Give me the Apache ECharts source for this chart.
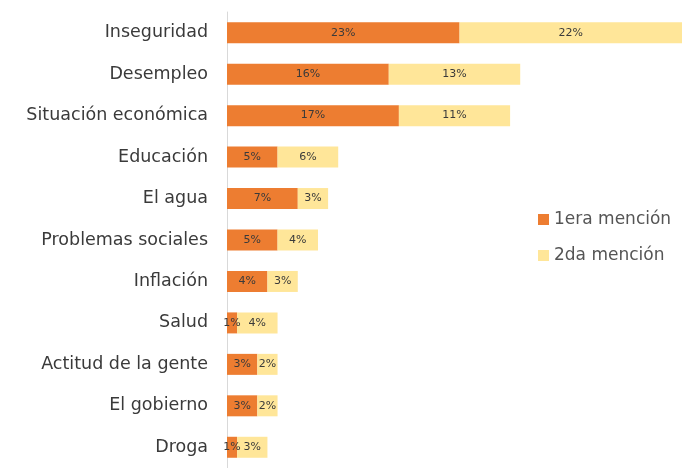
<!DOCTYPE html>
<html><head><meta charset="utf-8">
<script src="https://cdn.jsdelivr.net/npm/echarts@6/dist/echarts.min.js"></script>
<style>html,body{margin:0;padding:0;background:#fff}#c{width:682px;height:468px}</style>
</head><body><div id="c"></div>
<script>
const categories = ["Inseguridad","Desempleo","Situación económica","Educación","El agua","Problemas sociales","Inflación","Salud","Actitud de la gente","El gobierno","Droga"];
const primera = [23,16,17,5,7,5,4,1,3,3,1];
const segunda = [22,13,11,6,3,4,3,4,2,2,3];
const seriesNames = ["1era mención","2da mención"];
const chart = echarts.init(document.getElementById('c'));
const font = "'DejaVu Sans', sans-serif";
const lbl = {show:true, position:'inside', formatter:'{c}%', color:'#3a3a3a', fontSize:11, fontFamily:font, overflow:'none'};
chart.setOption({
  animation:false,
  grid:{left:227, top:12, width:455, height:460, containLabel:false},
  xAxis:{type:'value', min:0, max:45, show:false},
  yAxis:{type:'category', data:categories, inverse:true,
    axisLine:{show:true, lineStyle:{color:'#d9d9d9', width:1}},
    axisTick:{show:false},
    axisLabel:{color:'#3a3a3a', fontSize:17.5, fontFamily:font, margin:19}},
  legend:{orient:'vertical', left:533, top:204, itemWidth:11, itemHeight:11, itemGap:15,
    icon:'rect', textStyle:{color:'#555', fontSize:17, lineHeight:21, fontFamily:font}, data:seriesNames},
  series:[
    {name:seriesNames[0], type:'bar', stack:'a', data:primera, barWidth:21, itemStyle:{color:'#ED7D31'}, label:lbl},
    {name:seriesNames[1], type:'bar', stack:'a', data:segunda, barWidth:21, itemStyle:{color:'#FFE699'}, label:lbl}
  ]
});
</script></body></html>
